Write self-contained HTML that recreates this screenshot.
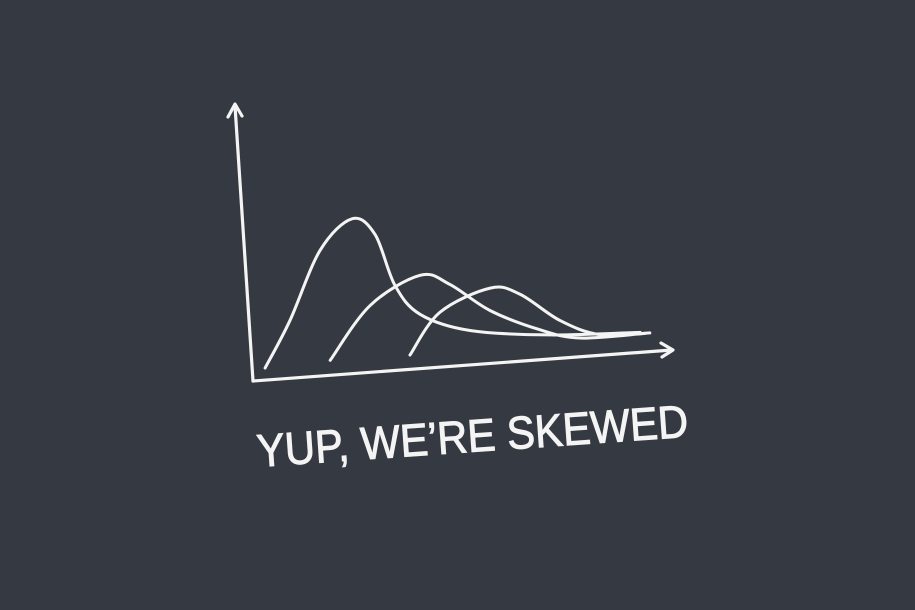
<!DOCTYPE html>
<html><head><meta charset="utf-8"><style>
html,body{margin:0;padding:0;background:#353a42;}
svg{display:block}
</style></head><body>
<svg width="915" height="610" viewBox="0 0 915 610">
<rect width="915" height="610" fill="#353a42"/>
<g id="axes" fill="none" stroke="#f4f4f4" stroke-width="3.2" stroke-linecap="round" stroke-linejoin="round">
<path d="M253,381 L235,106"/>
<path d="M228,117 L235,104 L242,116"/>
<path d="M253,381 L672,350"/>
<path d="M661,343 L673,350 L662,357"/>
</g>
<g id="curves" fill="none" stroke="#f4f4f4" stroke-width="3" stroke-linecap="round" stroke-linejoin="round"></g>
<text x="256" y="452" transform="rotate(-4 470 430)" fill="#f4f4f4" stroke="#f4f4f4" stroke-width="1" font-family="'Liberation Sans', sans-serif" font-size="46" textLength="432" lengthAdjust="spacingAndGlyphs">YUP, WE’RE SKEWED</text>
</svg>
<script>
var series1X = [2.4, 8.3, 15.5, 23.1, 28.6, 33.3, 39.3, 51.2, 70.2, 91.7];
var series1Y = [2, 32, 77, 96, 84, 49, 28, 14, 6, 2];
var series2X = [17.9, 27.4, 39.3, 46.4, 56, 67.9, 77.4, 92.9];
var series2Y = [3, 37, 54, 46, 26, 10, 2, 1];
var series3X = [36.9, 44, 56, 63.1, 72.6, 82.1, 94];
var series3Y = [1.5, 28, 41, 35, 15, 3, 1];
function xScale(x){ return 255 + x * 4.2; }
function yScale(x, y){ return (372 - x * 0.4) - y * 1.5; }
function pathFor(xs, ys){
  var p = xs.map(function(x,i){ return [xScale(x), yScale(x, ys[i])]; });
  var d = 'M' + p[0][0] + ',' + p[0][1];
  for (var i = 0; i < p.length - 1; i++){
    var p0 = p[i-1] || p[i], p1 = p[i], p2 = p[i+1], p3 = p[i+2] || p2;
    var c1x = p1[0] + (p2[0]-p0[0])/6, c1y = p1[1] + (p2[1]-p0[1])/6;
    var c2x = p2[0] - (p3[0]-p1[0])/6, c2y = p2[1] - (p3[1]-p1[1])/6;
    d += ' C' + c1x + ',' + c1y + ' ' + c2x + ',' + c2y + ' ' + p2[0] + ',' + p2[1];
  }
  return d;
}
var g = document.getElementById('curves');
var all = [[series1X, series1Y, 'curve-1'], [series2X, series2Y, 'curve-2'], [series3X, series3Y, 'curve-3']];
all.forEach(function(s){
  var el = document.createElementNS('http://www.w3.org/2000/svg', 'path');
  el.setAttribute('d', pathFor(s[0], s[1]));
  
  
  g.appendChild(el);
});
</script>
</body></html>
